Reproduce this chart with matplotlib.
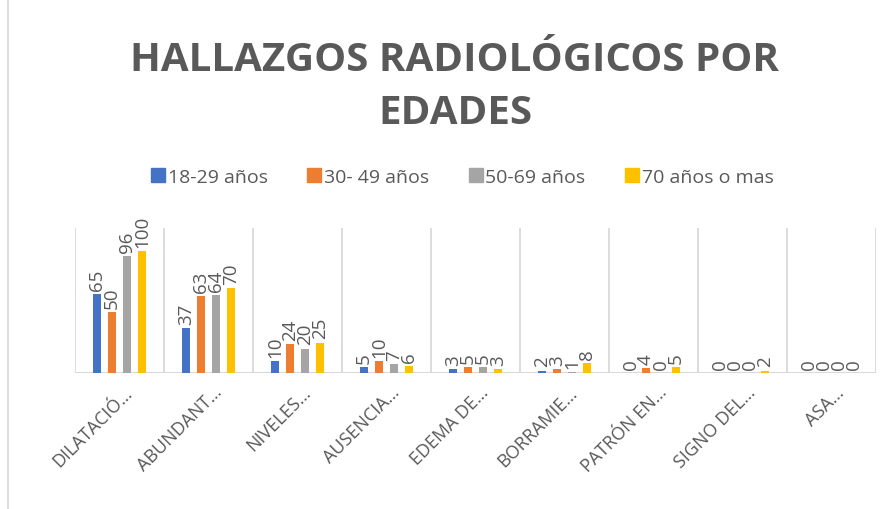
import matplotlib
matplotlib.use("Agg")
import matplotlib.pyplot as plt
from matplotlib.lines import Line2D
import matplotlib.transforms as mtransforms
import numpy as np

categories = ["DILATACIÓ…", "ABUNDANT…", "NIVELES…", "AUSENCIA…", "EDEMA DE…",
              "BORRAMIE…", "PATRÓN EN…", "SIGNO DEL…", "ASA…"]
series_names = ["18-29 años", "30- 49 años", "50-69 años", "70 años o mas"]
s1 = [65, 37, 10, 5, 3, 2, 0, 0, 0]
s2 = [50, 63, 24, 10, 5, 3, 4, 0, 0]
s3 = [96, 64, 20, 7, 5, 1, 0, 0, 0]
s4 = [100, 70, 25, 6, 3, 8, 5, 2, 0]
colors = ["#4472C4", "#ED7D31", "#A5A5A5", "#FFC000"]
title = "HALLAZGOS RADIOLÓGICOS POR\nEDADES"

plt.rcParams['font.family'] = ['Open Sans', 'DejaVu Sans']
txt = "#595959"
narrow = ['Liberation Sans Narrow', 'Open Sans', 'DejaVu Sans']

fig = plt.figure(figsize=(8.92, 5.10), dpi=100)
ax = fig.add_axes([75/892, 1-374/510, (876-75)/892, (374-229)/510])

x = np.arange(len(categories))
step = 0.17
width = 0.09
for i, (vals, c) in enumerate(zip([s1, s2, s3, s4], colors)):
    pos = x + (i - 1.5) * step
    ax.bar(pos, vals, width=width, color=c, zorder=3)
    for p, v in zip(pos, vals):
        ax.annotate(str(v), (p, v), xytext=(0, 3), textcoords="offset points",
                    rotation=90, ha="center", va="bottom", color=txt,
                    fontsize=13.5, family=narrow, zorder=4)

ax.set_xlim(-0.5, len(categories) - 0.5)
ax.set_ylim(0, 119)
ax.set_yticks([])
for b in np.arange(-0.5, len(categories) + 0.5, 1):
    ax.axvline(b, color="#D9D9D9", lw=1.3, zorder=1)
for s in ax.spines.values():
    s.set_visible(False)
ax.axhline(0, color="#D9D9D9", lw=1.5, zorder=2)

ax.set_xticks(x)
ax.set_xticklabels(categories, rotation=45, ha="right", rotation_mode="anchor",
                   color=txt, fontsize=13)
ax.tick_params(axis="x", length=0, pad=7)
offset = mtransforms.ScaledTranslation(4/100, 0, fig.dpi_scale_trans)
for lab in ax.get_xticklabels():
    lab.set_transform(lab.get_transform() + offset)

fig.text(455/892, 1-87/510, title, ha="center", va="center", fontsize=29,
         fontweight="bold", color=txt, linespacing=1.45)

handles = [Line2D([], [], marker="s", linestyle="none", markersize=10,
                  markerfacecolor=c, markeredgecolor=c) for c in colors]
fig.legend(handles, series_names, loc="center", bbox_to_anchor=(461/892, 1-178/510),
           ncol=4, frameon=False, fontsize=14, handletextpad=0.0,
           columnspacing=1.9, labelcolor=txt, handlelength=1.0)

fig.add_artist(Line2D([8/892, 8/892], [0, 1], color="#D9D9D9", lw=1.3,
                      transform=fig.transFigure))

fig.savefig("out.png", dpi=100)
